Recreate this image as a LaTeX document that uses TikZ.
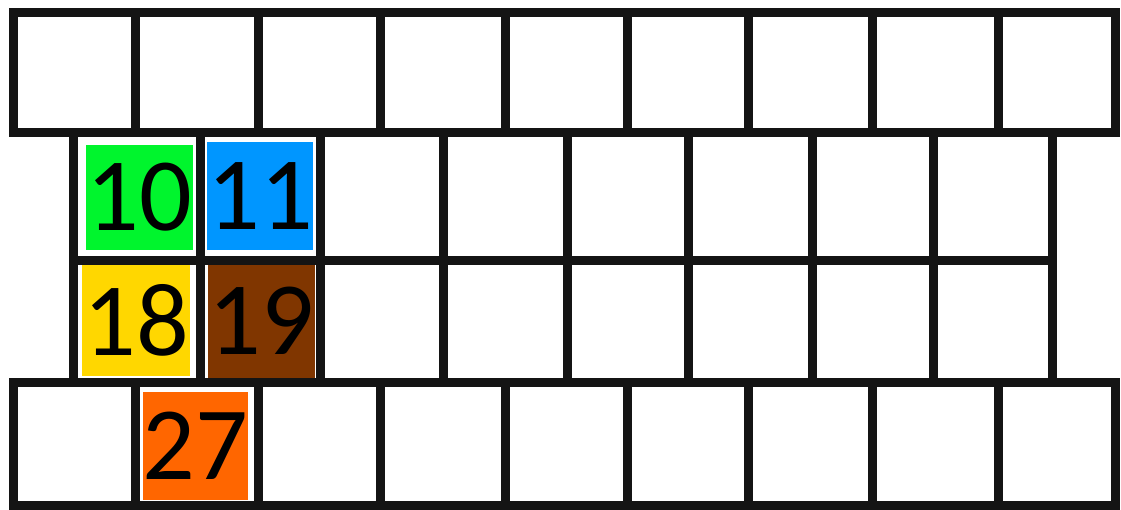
\documentclass[tikz,border=0pt]{standalone}
\usepackage{fontspec}
\setmainfont{Carlito}
\definecolor{cgreen}{RGB}{0,245,45}
\definecolor{cblue}{RGB}{0,150,255}
\definecolor{cyellow}{RGB}{255,215,0}
\definecolor{cbrown}{RGB}{128,54,0}
\definecolor{corange}{RGB}{255,102,0}
\tikzset{
  gridline/.style={draw=black!92, line width=9pt, line join=miter},
  tile/.style={inner sep=0pt, font=\fontsize{104}{104}\selectfont, text=black},
}
\begin{document}
\begin{tikzpicture}[x=1pt,y=-1pt]
\useasboundingbox (0,0) rectangle (1121,509);
\fill[white] (0,0) rectangle (1121,509);
% middle rows
\draw[gridline] (73,132) rectangle (1052,382);
\draw[gridline] (73,260) -- (1052,260);
\foreach \x in {200,320,443,567,688,812,933}
  \draw[gridline] (\x,132) -- (\x,382);
% top row
\draw[gridline] (13,12) rectangle (1115,132);
\foreach \x in {135,258,380,505,627,748,872,998}
  \draw[gridline] (\x,12) -- (\x,132);
% bottom row
\draw[gridline] (13,382) rectangle (1115,505);
\foreach \x in {135,258,380,505,627,748,872,998}
  \draw[gridline] (\x,382) -- (\x,505);
% coloured tiles
\node[tile, fill=cgreen, minimum width=107pt, minimum height=105pt] (t10) at (139.5,197.5) {10};
\node[tile, fill=cblue, minimum width=104pt, minimum height=108pt] (t11) at (260,196) {11};
\node[tile, fill=cyellow, minimum width=108pt, minimum height=111pt] (t18) at (136,320) {18};
\node[tile, fill=cbrown, minimum width=107pt, minimum height=113pt] (t19) at (261.5,321) {19};
\node[tile, fill=corange, minimum width=105pt, minimum height=108pt] (t27) at (195.5,446) {27};
\end{tikzpicture}
\end{document}
